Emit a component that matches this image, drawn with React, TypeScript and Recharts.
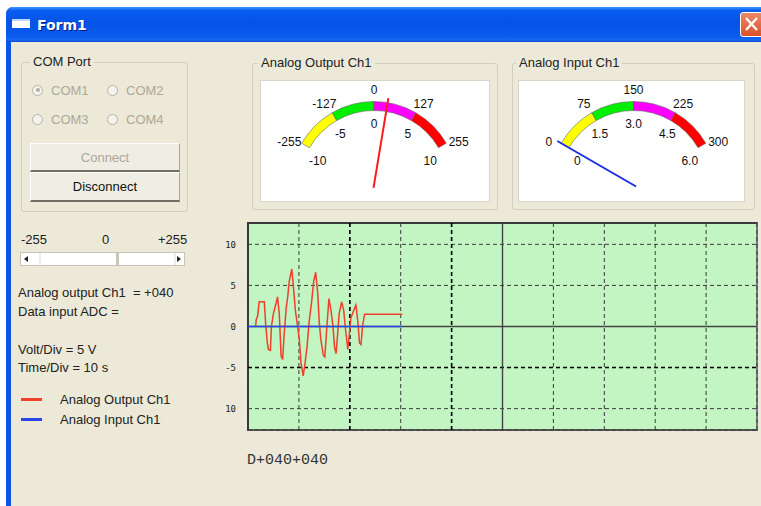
import React from "react";
import {
  LineChart,
  Line,
  XAxis,
  YAxis,
  CartesianGrid,
  ReferenceLine,
  Legend,
  PieChart,
  Pie,
  Cell,
} from "recharts";

// scope trace (time in s, level in V)
const outputTimes = [
  1.5, 1.6, 1.9, 2.2, 3.2, 3.5, 3.8, 4.0, 4.4, 4.6, 5.0, 5.5, 5.8, 6.15, 6.5,
  6.8, 7.1, 7.5, 7.8, 8.1, 8.6, 8.9, 9.3, 9.75, 10.1, 10.4, 10.85, 11.2, 11.6,
  12.0, 12.5, 12.9, 13.3, 13.7, 14.0, 14.3, 14.8, 15.1, 15.5, 15.9, 16.3, 16.7,
  17.0, 17.3, 17.6, 17.9, 18.4, 18.8, 19.1, 19.6, 19.9, 20.2, 20.8, 21.2, 21.6,
  21.9, 22.2, 22.5, 22.9, 30.3,
];
const outputVolts = [
  0, 0.8, 1.3, 3.0, 3.0, 0, -2.0, -2.8, -2.9, 0, 1.6, 2.8, 3.6, 1.5, -3.6,
  -4.0, -1.0, 2.2, 3.6, 5.5, 7.0, 5.0, 2.0, 0, -1.7, -4.4, -6.0, -4.5, -2.5,
  0.5, 3.0, 5.5, 6.6, 4.0, 0.5, -1.5, -3.5, -3.7, 0, 3.4, 2.0, 0,
  -2.5, -3.3, -1.0, 1.5, 3.0, 2.0, 0, -2.8, -1.0, 1.0, 2.0, 2.6, 0.5,
  -2.0, -2.2, 0, 1.5, 1.5,
];
const inputTimes = [0, 30.3];
const inputVolts = [0, 0];
const seriesNames = ["Analog Output Ch1", "Analog Input Ch1"];

const timeTicks = [0, 10, 20, 30, 40, 50, 60, 70, 80, 90, 100];
const voltTicks = [-10, -5, 0, 5, 10];

const gaugeColors = ["#ffff00", "#00ee00", "#ff00ff", "#ff0000"];
const outputScale = ["-255", "-127", "0", "127", "255"];
const outputVoltScale = ["-10", "-5", "0", "5", "10"];
const inputScale = ["0", "75", "150", "225", "300"];
const inputVoltScale = ["0", "1.5", "3.0", "4.5", "6.0"];
const outputValue = 40;
const outputRange = [-255, 255];
const inputValue = 0;
const inputRange = [0, 300];

const outputData = outputTimes.map((t, i) => ({ t, v: outputVolts[i] }));
const inputData = inputTimes.map((t, i) => ({ t, v: inputVolts[i] }));

const BODY = "#ECE9D8";
const SANS = '"Liberation Sans", Arial, sans-serif';

// angle a in degrees measured from straight up, clockwise
const fromTop = (cx: number, cy: number, r: number, a: number) => ({
  x: cx + r * Math.sin((a * Math.PI) / 180),
  y: cy - r * Math.cos((a * Math.PI) / 180),
});

const tickLabel = (p: any) => {
  const item = p.payload || p;
  const a = 90 - p.midAngle;
  const o = fromTop(p.cx, p.cy, 95, a * 1.05);
  const n = fromTop(p.cx, p.cy, 61, a * 1.12);
  const st = { fontSize: 12, fontFamily: SANS, fill: "#111" };
  return (
    <g>
      <text x={o.x} y={o.y} textAnchor="middle" dominantBaseline="central" {...st}>
        {item.outer}
      </text>
      <text x={n.x} y={n.y} textAnchor="middle" dominantBaseline="central" {...st}>
        {item.inner}
      </text>
    </g>
  );
};

const needleLabel = (color: string) => (p: any) => {
  if (p.index !== 1) return <g />;
  const a = 90 - p.startAngle;
  const s = fromTop(p.cx, p.cy, -3, a);
  const e = fromTop(p.cx, p.cy, 88, a);
  return <line x1={s.x} y1={s.y} x2={e.x} y2={e.y} stroke={color} strokeWidth={2} />;
};

const Gauge = ({ cx, value, range, outer, inner, needle }: any) => {
  const segs = gaugeColors.map((c) => ({ v: 1, c }));
  const ticks = outer.map((o: string, i: number) => ({ v: 1, outer: o, inner: inner[i] }));
  const split = [{ v: value - range[0] }, { v: range[1] - value }];
  return (
    <PieChart width={228} height={122} margin={{ top: 0, right: 0, bottom: 0, left: 0 }}>
      <Pie
        data={segs}
        dataKey="v"
        cx={cx}
        cy={105}
        startAngle={150}
        endAngle={30}
        innerRadius={74.5}
        outerRadius={83.5}
        stroke="#666"
        strokeWidth={0.6}
        isAnimationActive={false}
      >
        {segs.map((s, i) => (
          <Cell key={i} fill={s.c} />
        ))}
      </Pie>
      <Pie
        data={ticks}
        dataKey="v"
        cx={cx}
        cy={105}
        startAngle={165}
        endAngle={15}
        outerRadius={84}
        fill="none"
        stroke="none"
        label={tickLabel}
        labelLine={false}
        isAnimationActive={false}
      />
      <Pie
        data={split}
        dataKey="v"
        cx={cx}
        cy={105}
        startAngle={150}
        endAngle={30}
        outerRadius={88}
        fill="none"
        stroke="none"
        label={needleLabel(needle)}
        labelLine={false}
        isAnimationActive={false}
      />
    </PieChart>
  );
};

const GroupBox = ({ left, top, width, height, title, labelLeft }: any) => (
  <div
    style={{
      position: "absolute",
      left,
      top,
      width,
      height,
      border: "1px solid #D0D0BF",
      borderRadius: 3,
      boxSizing: "border-box",
    }}
  >
    <span
      style={{
        position: "absolute",
        left: labelLeft,
        top: -8,
        padding: "0 3px",
        background: BODY,
        lineHeight: "14px",
        color: "#222",
      }}
    >
      {title}
    </span>
  </div>
);

const Radio = ({ left, top, label, checked }: any) => (
  <div style={{ position: "absolute", left, top, height: 14, display: "flex", alignItems: "center" }}>
    <span
      style={{
        width: 9,
        height: 9,
        borderRadius: "50%",
        border: "1px solid #B6B3A6",
        background: "#F4F3EE",
        position: "relative",
        marginRight: 8,
      }}
    >
      {checked && (
        <span
          style={{
            position: "absolute",
            left: 2.5,
            top: 2.5,
            width: 4,
            height: 4,
            borderRadius: "50%",
            background: "#B0AEA0",
          }}
        />
      )}
    </span>
    <span style={{ color: "#ACA899" }}>{label}</span>
  </div>
);

const Button = ({ top, height, label, disabled }: any) => (
  <div
    style={{
      position: "absolute",
      left: 30,
      top,
      width: 150,
      height,
      boxSizing: "border-box",
      borderTop: "1px solid #fff",
      borderLeft: "1px solid #fff",
      borderRight: "1px solid #ACA899",
      borderBottom: "2px solid #716F64",
      background: "#EFEDE4",
      display: "flex",
      alignItems: "center",
      justifyContent: "center",
      color: disabled ? "#ACA899" : "#111",
    }}
  >
    {label}
  </div>
);

const renderLegend = ({ payload }: any) => {
  const items = [...(payload || [])].sort(
    (a: any, b: any) => seriesNames.indexOf(a.value) - seriesNames.indexOf(b.value)
  );
  return (
    <div>
      {items.map((p: any) => (
        <div key={p.value} style={{ display: "flex", alignItems: "center", height: 20 }}>
          <span style={{ display: "inline-block", width: 21, height: 3, background: p.color, marginRight: 18 }} />
          <span style={{ fontSize: 13, color: "#222", fontFamily: SANS }}>{p.value}</span>
        </div>
      ))}
    </div>
  );
};

const text = (left: number, top: number, s: string) => (
  <div style={{ position: "absolute", left, top, lineHeight: "14px", color: "#222", whiteSpace: "pre" }}>{s}</div>
);

export default function App() {
  return (
    <div
      style={{
        position: "fixed",
        left: 0,
        top: 0,
        width: 761,
        height: 506,
        overflow: "hidden",
        background: "#fff",
        fontFamily: SANS,
        fontSize: 13,
      }}
    >
      {/* window frame and title bar */}
      <div style={{ position: "absolute", left: 6, top: 7, width: 800, height: 520, background: "#0B55E6", borderRadius: "7px 7px 0 0" }} />
      <div
        style={{
          position: "absolute",
          left: 6,
          top: 7,
          width: 800,
          height: 35,
          borderRadius: "7px 7px 0 0",
          background:
            "linear-gradient(#3D95FF 0%, #0A5FF0 10%, #0552E6 45%, #0A5CEE 85%, #1566F2 95%, #0A48C8 100%)",
        }}
      />
      <div style={{ position: "absolute", left: 12, top: 19, width: 18, height: 9, background: "#fff", borderTop: "2px solid #BFD6FF", boxSizing: "border-box" }} />
      <div
        style={{
          position: "absolute",
          left: 37,
          top: 17,
          color: "#fff",
          fontWeight: "bold",
          fontSize: 14,
          fontFamily: '"DejaVu Sans", sans-serif',
          textShadow: "1px 1px #0A1883",
        }}
      >
        Form1
      </div>
      <div
        style={{
          position: "absolute",
          left: 740,
          top: 12,
          width: 24,
          height: 25,
          boxSizing: "border-box",
          border: "1px solid #fff",
          borderRadius: 3,
          background: "linear-gradient(#EC8A66, #D9522A)",
        }}
      >
        <svg width={22} height={23} style={{ position: "absolute", left: 0, top: 0 }}>
          <line x1={5} y1={5} x2={16} y2={17} stroke="#fff" strokeWidth={2.4} />
          <line x1={16} y1={5} x2={5} y2={17} stroke="#fff" strokeWidth={2.4} />
        </svg>
      </div>
      <div style={{ position: "absolute", left: 11, top: 42, width: 800, height: 480, background: BODY }} />

      {/* COM port */}
      <GroupBox left={21} top={62} width={167} height={150} title="COM Port" labelLeft={8} />
      <Radio left={32} top={83} label="COM1" checked />
      <Radio left={107} top={83} label="COM2" />
      <Radio left={32} top={112} label="COM3" />
      <Radio left={107} top={112} label="COM4" />
      <Button top={143} height={29} label="Connect" disabled />
      <Button top={172} height={30} label="Disconnect" />

      {/* gauges */}
      <GroupBox left={252} top={63} width={246} height={147} title="Analog Output Ch1" labelLeft={5} />
      <div style={{ position: "absolute", left: 260, top: 80, width: 230, height: 122, background: "#fff", boxShadow: "inset 0 0 0 1px #D8D5CA" }}>
        <Gauge cx={114} value={outputValue} range={outputRange} outer={outputScale} inner={outputVoltScale} needle="#ff1a1a" />
      </div>
      <GroupBox left={512} top={63} width={243} height={147} title="Analog Input Ch1" labelLeft={3} />
      <div style={{ position: "absolute", left: 518, top: 80, width: 227, height: 122, background: "#fff", boxShadow: "inset 0 0 0 1px #D8D5CA" }}>
        <Gauge cx={115.5} value={inputValue} range={inputRange} outer={inputScale} inner={inputVoltScale} needle="#1a2ee8" />
      </div>

      {/* slider and readouts */}
      {text(21, 233, "-255")}
      {text(102, 233, "0")}
      {text(158, 233, "+255")}
      <div style={{ position: "absolute", left: 20, top: 252, width: 165, height: 14, background: "#fff", border: "1px solid #C8C5B8", boxSizing: "border-box" }}>
        <svg width={165} height={14} style={{ position: "absolute", left: -1, top: -1 }}>
          <polygon points="4,7 8,4 8,10" fill="#222" />
          <line x1={20} y1={1} x2={20} y2={13} stroke="#DDDACC" />
          <rect x={96} y={1} width={3} height={12} fill="#C9C6B8" />
          <line x1={155} y1={1} x2={155} y2={13} stroke="#DDDACC" />
          <polygon points="161,7 157,4 157,10" fill="#222" />
        </svg>
      </div>
      {text(18, 286, "Analog output Ch1  = +040")}
      {text(18, 305, "Data input ADC =")}
      {text(18, 343, "Volt/Div = 5 V")}
      {text(18, 361, "Time/Div = 10 s")}

      {/* scope */}
      <div
        style={{
          position: "absolute",
          left: 247,
          top: 222,
          width: 511,
          height: 209,
          boxSizing: "border-box",
          background: "#C2F5C2",
          borderLeft: "2px solid #383838",
          borderTop: "2px solid #383838",
          borderBottom: "2px solid #555",
          borderRight: "2px solid #7A7A7A",
        }}
      />
      <div style={{ position: "absolute", left: 188, top: 213 }}>
        <LineChart width={580} height={230} margin={{ top: 10, right: 11, bottom: 13, left: 0 }}>
          <CartesianGrid stroke="#3a3a3a" strokeDasharray="4 3" />
          <XAxis dataKey="t" type="number" domain={[0, 100]} ticks={timeTicks} hide />
          <YAxis
            type="number"
            domain={[-12.6, 12.6]}
            ticks={voltTicks}
            allowDataOverflow
            width={60}
            axisLine={false}
            tickLine={false}
            tickMargin={6}
            tickFormatter={(v: number) => (v === -10 ? "10" : String(v))}
            tick={{ fontSize: 9, fontFamily: '"DejaVu Sans Mono", monospace', fill: "#222" }}
          />
          <ReferenceLine x={20} stroke="#000" strokeDasharray="4 3" strokeWidth={1.6} />
          <ReferenceLine x={40} stroke="#000" strokeDasharray="4 3" strokeWidth={1.6} />
          <ReferenceLine y={-5} stroke="#000" strokeDasharray="4 3" strokeWidth={1.6} />
          <ReferenceLine y={0} stroke="#444" strokeWidth={1.4} />
          <ReferenceLine x={50} stroke="#444" strokeWidth={1.4} />
          <Line
            data={outputData}
            dataKey="v"
            name={seriesNames[0]}
            type="linear"
            stroke="#F0402A"
            strokeWidth={1.5}
            dot={false}
            isAnimationActive={false}
          />
          <Line
            data={inputData}
            dataKey="v"
            name={seriesNames[1]}
            type="linear"
            stroke="#2846F0"
            strokeWidth={1.6}
            dot={false}
            isAnimationActive={false}
          />
          <Legend
            layout="vertical"
            align="center"
            verticalAlign="middle"
            content={renderLegend}
            wrapperStyle={{ left: -167, top: 176, width: 200 }}
          />
        </LineChart>
      </div>

      <div
        style={{
          position: "absolute",
          left: 247,
          top: 452,
          fontFamily: '"Liberation Mono", monospace',
          fontSize: 15,
          color: "#333",
        }}
      >
        D+040+040
      </div>
    </div>
  );
}
